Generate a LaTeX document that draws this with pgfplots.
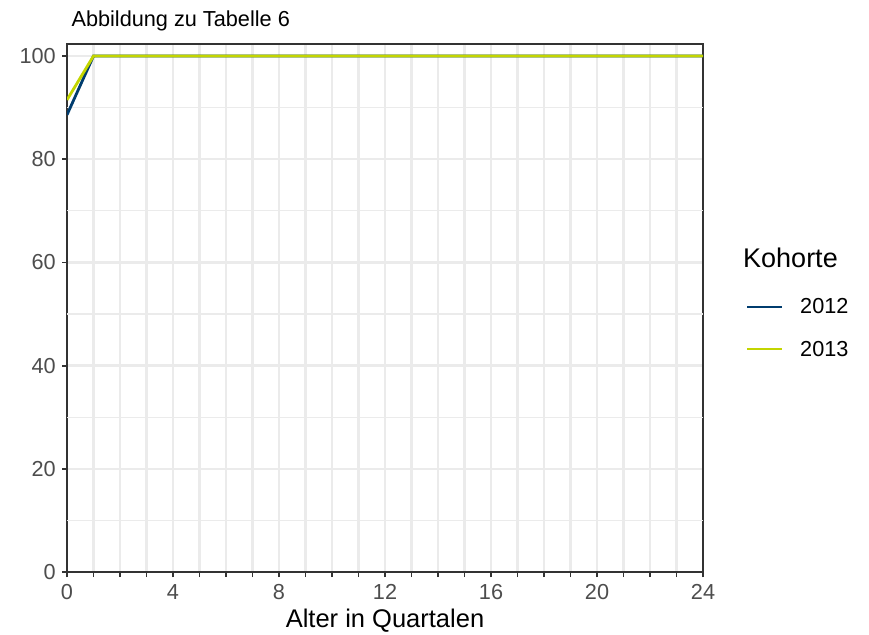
\documentclass[border=0pt]{standalone}
\usepackage{pgfplots}
\pgfplotsset{compat=1.18}
\usepackage{pgfplotstable}
\usepackage{fontspec}
\setmainfont{Liberation Sans}
\definecolor{c2012}{HTML}{003C6E}
\definecolor{c2013}{HTML}{C3D500}
\definecolor{gridc}{HTML}{EBEBEB}
\definecolor{axc}{HTML}{333333}
\definecolor{tickc}{HTML}{4D4D4D}
\pgfplotstableread{
x y2012 y2013
0 88.6 91.5
1 100 100
2 100 100
3 100 100
4 100 100
5 100 100
6 100 100
7 100 100
8 100 100
9 100 100
10 100 100
11 100 100
12 100 100
13 100 100
14 100 100
15 100 100
16 100 100
17 100 100
18 100 100
19 100 100
20 100 100
21 100 100
22 100 100
23 100 100
24 100 100
}\datatable
\begin{document}
\begin{tikzpicture}
\useasboundingbox (0pt,0pt) rectangle (869pt,634pt);
\begin{axis}[
  at={(67pt,62pt)}, anchor=south west,
  scale only axis, width=636pt, height=528pt,
  xmin=0, xmax=24, ymin=0, ymax=102.33,
  xtick={0,4,...,24}, minor xtick={0,1,...,24},
  ytick={0,20,...,100},
  extra y ticks={10,30,50,70,90}, extra y tick labels={},
  extra y tick style={grid=major, major tick length=0pt, major grid style={line width=1.3pt, color=gridc}},
  tick pos=left, tick align=outside,
  major tick length=5pt, minor tick length=5pt,
  tick style={line width=1.8pt, color=axc},
  grid=both,
  major grid style={line width=2.5pt, color=gridc},
  minor grid style={line width=2.5pt, color=gridc},
  axis line style={line width=1.8pt, color=axc},
  /pgf/number format/assume math mode=true,
  ticklabel style={font=\fontsize{21.7}{24}\selectfont, text=tickc},
  xticklabel style={inner sep=0pt, yshift=-7pt},
  yticklabel style={inner sep=0pt, xshift=-6pt},
]
\addplot[c2012, line width=2.8pt] table[x=x, y=y2012] {\datatable};
\addplot[c2013, line width=2.8pt] table[x=x, y=y2013] {\datatable};
\end{axis}
\node[anchor=base west, font=\fontsize{21.7}{24}\selectfont] at (68pt,607pt) {Abbildung zu Tabelle 6};
\node[anchor=base, font=\fontsize{25.5}{28}\selectfont] at (385pt,7pt) {Alter in Quartalen};
\node[anchor=base west, inner sep=0pt, font=\fontsize{27}{30}\selectfont] at (743pt,366pt) {Kohorte};
\draw[c2012, line width=2.8pt] (747pt,327pt) -- (782pt,327pt);
\draw[c2013, line width=2.8pt] (747pt,285pt) -- (782pt,285pt);
\node[anchor=base west, inner sep=0pt, font=\fontsize{21.7}{24}\selectfont] at (800pt,320pt) {2012};
\node[anchor=base west, inner sep=0pt, font=\fontsize{21.7}{24}\selectfont] at (800pt,277pt) {2013};
\end{tikzpicture}
\end{document}
